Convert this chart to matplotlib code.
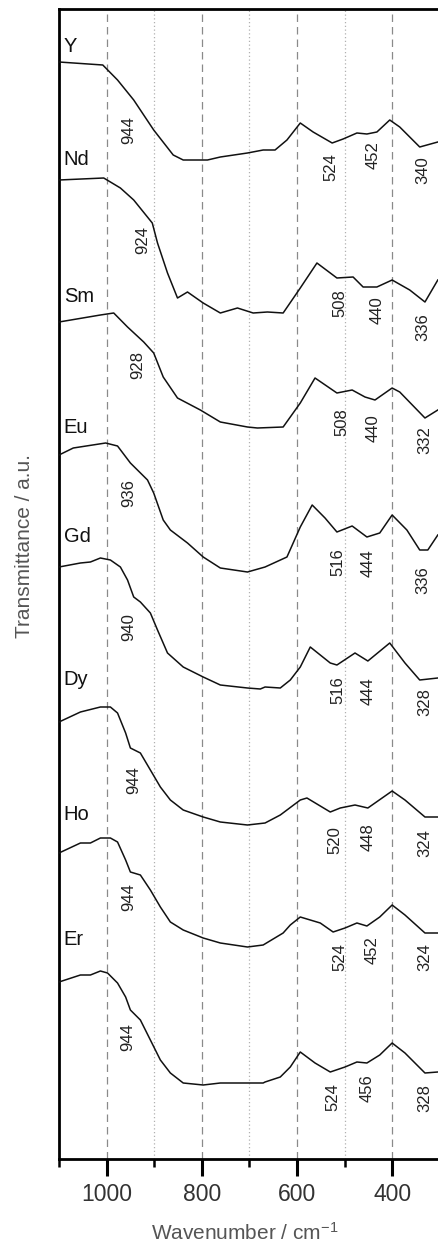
import matplotlib
matplotlib.use("Agg")
import matplotlib.pyplot as plt

plt.rcParams['font.family'] = ['Liberation Sans', 'DejaVu Sans']
plt.rcParams['mathtext.fontset'] = 'custom'
plt.rcParams['mathtext.rm'] = 'Liberation Sans'
plt.rcParams['mathtext.it'] = 'Liberation Sans'

# spectra, transmittance in a.u. relative to the start of each trace
names = ['Y', 'Nd', 'Sm', 'Eu', 'Gd', 'Dy', 'Ho', 'Er']
offsets = [1097, 979, 837, 704, 592, 437, 306, 177]

wn_Y = [1100, 1008, 977, 943, 901, 860, 839, 788, 761, 704, 671, 646, 621, 593, 566, 526, 503, 474, 453, 432, 405, 384, 342, 304]
t_Y = [0, -3, -18, -38, -68, -93, -98, -98, -95, -91, -88, -88, -78, -61, -70, -81, -77, -71, -72, -70, -58, -65, -85, -80]

wn_Nd = [1100, 1006, 971, 943, 904, 893, 872, 851, 830, 797, 761, 725, 692, 662, 629, 593, 558, 516, 482, 461, 432, 400, 363, 331, 304]
t_Nd = [0, 2, -8, -20, -43, -63, -93, -118, -112, -123, -133, -128, -133, -132, -133, -108, -83, -98, -97, -107, -107, -100, -110, -122, -100]

wn_Sm = [1100, 1013, 985, 956, 922, 901, 881, 851, 803, 761, 704, 683, 629, 593, 562, 516, 484, 457, 436, 400, 384, 331, 304]
t_Sm = [0, 7, 9, -5, -20, -31, -55, -76, -88, -100, -105, -106, -105, -81, -56, -71, -68, -75, -78, -66, -70, -96, -88]

wn_Eu = [1100, 1070, 1002, 977, 950, 914, 901, 881, 866, 830, 797, 761, 704, 667, 621, 593, 568, 541, 516, 484, 453, 426, 400, 369, 342, 325, 304]
t_Eu = [0, 7, 12, 9, -8, -25, -38, -65, -75, -88, -102, -113, -117, -112, -102, -72, -50, -63, -77, -71, -82, -78, -60, -75, -95, -95, -80]

wn_Gd = [1100, 1055, 1034, 1013, 992, 971, 956, 943, 929, 908, 893, 872, 839, 797, 761, 704, 677, 667, 635, 614, 593, 572, 530, 516, 478, 451, 405, 373, 342, 304]
t_Gd = [0, 4, 5, 9, 7, 0, -13, -30, -35, -46, -63, -86, -100, -110, -118, -121, -122, -120, -121, -113, -100, -80, -96, -98, -86, -94, -76, -96, -113, -111]

wn_Dy = [1100, 1055, 1013, 992, 977, 960, 950, 929, 908, 887, 866, 839, 797, 761, 704, 667, 635, 593, 579, 530, 509, 478, 451, 400, 373, 331, 304]
t_Dy = [0, 10, 15, 15, 9, -11, -26, -31, -48, -65, -78, -88, -95, -100, -103, -101, -93, -78, -76, -90, -86, -83, -86, -69, -78, -95, -95]

wn_Ho = [1100, 1055, 1034, 1013, 992, 977, 960, 950, 929, 908, 887, 866, 839, 797, 761, 704, 671, 629, 614, 593, 551, 524, 499, 474, 453, 426, 400, 373, 331, 304]
t_Ho = [0, 10, 10, 15, 15, 11, -7, -19, -22, -37, -54, -69, -77, -85, -90, -94, -92, -80, -72, -64, -70, -79, -75, -70, -73, -64, -52, -62, -80, -80]

wn_Er = [1100, 1055, 1034, 1013, 998, 977, 960, 950, 929, 908, 887, 866, 839, 797, 761, 704, 671, 667, 635, 614, 593, 562, 530, 499, 474, 453, 426, 400, 373, 331, 304]
t_Er = [0, 7, 7, 11, 9, -1, -15, -28, -38, -58, -78, -91, -101, -103, -101, -101, -101, -100, -95, -85, -70, -81, -90, -85, -80, -81, -73, -61, -71, -91, -90]

wavenumbers = [wn_Y, wn_Nd, wn_Sm, wn_Eu, wn_Gd, wn_Dy, wn_Ho, wn_Er]
traces = [t_Y, t_Nd, t_Sm, t_Eu, t_Gd, t_Dy, t_Ho, t_Er]

# band labels written next to each trace
band_labels = [
    ['944', '524', '452', '340'],
    ['924', '508', '440', '336'],
    ['928', '508', '440', '332'],
    ['936', '516', '444', '336'],
    ['940', '516', '444', '328'],
    ['944', '520', '448', '324'],
    ['944', '524', '452', '324'],
    ['944', '524', '456', '328'],
]
# where those labels sit (wavenumber, a.u.)
band_pos = [
    [(954, 1029), (528, 992), (440, 1004), (335, 989)],
    [(924, 919), (509, 856), (432, 849), (335, 832)],
    [(935, 794), (505, 737), (440, 731), (331, 719)],
    [(954, 666), (514, 597), (451, 596), (335, 579)],
    [(954, 532), (514, 469), (451, 468), (331, 457)],
    [(943, 379), (520, 319), (451, 322), (331, 316)],
    [(954, 262), (509, 202), (442, 209), (331, 202)],
    [(956, 122), (524, 62), (453, 71), (331, 61)],
]
name_y = [1107, 994, 857, 726, 617, 474, 339, 214]

fig = plt.figure(figsize=(4.38, 12.43), dpi=100)
ax = fig.add_axes([59 / 438, 84 / 1243, 379 / 438, 1150 / 1243])

for x in [1000, 800, 600, 400]:
    ax.axvline(x, color='#8a8a8a', lw=0.9, ls=(0, (6, 4)), zorder=1)
for x in [900, 700, 500]:
    ax.axvline(x, color='#b0b0b0', lw=0.9, ls=(0, (1, 2)), zorder=1)

for i in range(len(names)):
    y = [v + offsets[i] for v in traces[i]]
    ax.plot(wavenumbers[i], y, color='#111111', lw=1.1, zorder=3)
    ax.text(1090, name_y[i], names[i], fontsize=14.5, color='#111111',
            ha='left', va='baseline')
    for lab, (px, py) in zip(band_labels[i], band_pos[i]):
        ax.text(px, py, lab, fontsize=12, rotation=90, color='#222222',
                ha='center', va='center')

ax.set_xlim(1100, 303.6)
ax.set_ylim(0, 1150)
ax.set_xticks([1000, 800, 600, 400])
ax.set_xticks([1100, 900, 700, 500], minor=True)
ax.set_yticks([])
ax.tick_params(axis='x', which='major', length=12, width=2.2, direction='out',
               labelsize=16.5, labelcolor='#333333', pad=5)
ax.tick_params(axis='x', which='minor', length=6, width=1.8, direction='out')
ax.spines['right'].set_visible(False)
for s in ['left', 'bottom', 'top']:
    ax.spines[s].set_linewidth(2.0)

fig.text(245 / 438, 3 / 1243, 'Wavenumber / cm$^{-1}$', fontsize=15,
         color='#555555', ha='center', va='baseline')
fig.text(25 / 438, 1 - 546 / 1243, 'Transmittance / a.u.', fontsize=15,
         color='#555555', ha='center', va='center', rotation=90)

fig.savefig('out.png', dpi=100)
